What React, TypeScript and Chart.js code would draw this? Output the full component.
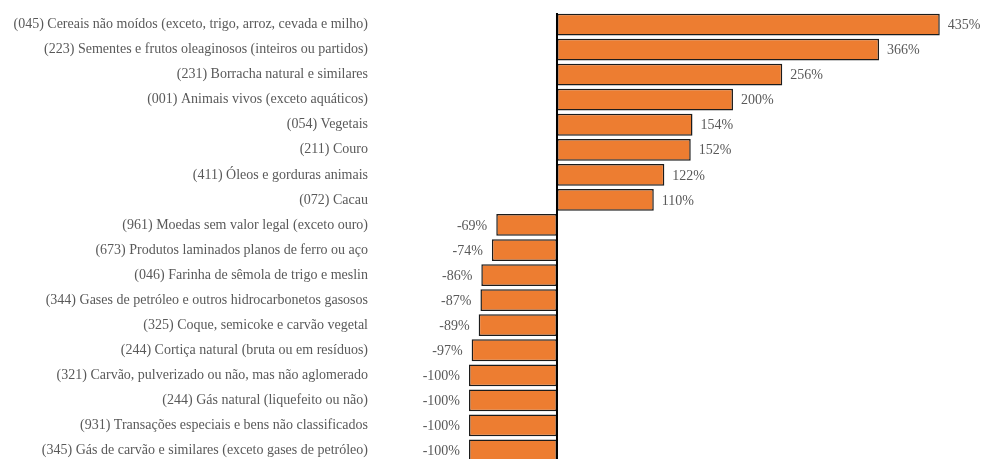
import React, { useEffect, useRef } from "react";
import { Chart, registerables } from "chart.js";

Chart.register(...registerables);

const categories: string[] = [
  "(045) Cereais não moídos (exceto, trigo, arroz, cevada e milho)",
  "(223) Sementes e frutos oleaginosos (inteiros ou partidos)",
  "(231) Borracha natural e similares",
  "(001) Animais vivos (exceto aquáticos)",
  "(054) Vegetais",
  "(211) Couro",
  "(411) Óleos e gorduras animais",
  "(072) Cacau",
  "(961) Moedas sem valor legal (exceto ouro)",
  "(673) Produtos laminados planos de ferro ou aço",
  "(046) Farinha de sêmola de trigo e meslin",
  "(344) Gases de petróleo e outros hidrocarbonetos gasosos",
  "(325) Coque, semicoke e carvão vegetal",
  "(244) Cortiça natural (bruta ou em resíduos)",
  "(321) Carvão, pulverizado ou não, mas não aglomerado",
  "(244) Gás natural (liquefeito ou não)",
  "(931) Transações especiais e bens não classificados",
  "(345) Gás de carvão e similares (exceto gases de petróleo)",
];

const values: number[] = [
  435, 366, 256, 200, 154, 152, 122, 110, -69, -74, -86, -87, -89, -97, -100, -100, -100, -100,
];

const FONT = "'Liberation Serif', 'Times New Roman', serif";
const TEXT_COLOR = "#595959";

const overlayPlugin = {
  id: "overlay",
  afterDatasetsDraw(chart: any) {
    const ctx = chart.ctx as CanvasRenderingContext2D;
    const xScale = chart.scales.x;
    const area = chart.chartArea;
    const x0 = xScale.getPixelForValue(0);
    ctx.save();
    ctx.strokeStyle = "#000";
    ctx.lineWidth = 2;
    ctx.beginPath();
    ctx.moveTo(x0, area.top + 1);
    ctx.lineTo(x0, area.bottom);
    ctx.stroke();

    const meta = chart.getDatasetMeta(0);
    ctx.font = `14px ${FONT}`;
    ctx.fillStyle = TEXT_COLOR;
    ctx.textBaseline = "middle";
    meta.data.forEach((bar: any, i: number) => {
      const v = values[i];
      const text = `${v}%`;
      if (v >= 0) {
        ctx.textAlign = "left";
        ctx.fillText(text, bar.x + 8, bar.y + 1);
      } else {
        ctx.textAlign = "right";
        ctx.fillText(text, bar.x - 9, bar.y + 1);
      }
    });
    ctx.restore();
  },
};

export default function App() {
  const canvasRef = useRef<HTMLCanvasElement | null>(null);

  useEffect(() => {
    if (!canvasRef.current) return;
    const chart = new Chart(canvasRef.current, {
      type: "bar",
      data: {
        labels: categories,
        datasets: [
          {
            data: values,
            backgroundColor: "#ED7D31",
            borderColor: "#1c1c1c",
            borderWidth: 1.5,
            borderSkipped: false,
            barPercentage: 0.87,
            categoryPercentage: 1,
          },
        ],
      },
      options: {
        indexAxis: "y",
        responsive: false,
        maintainAspectRatio: false,
        animation: false,
        layout: { padding: { top: 12, bottom: 0, left: 0, right: 0 } },
        plugins: {
          legend: { display: false },
          tooltip: { enabled: false },
        },
        scales: {
          x: {
            display: false,
            min: -200,
            max: 483,
          },
          y: {
            grid: { display: false, drawTicks: false },
            border: { display: false },
            ticks: {
              padding: 13,
              color: TEXT_COLOR,
              font: { family: FONT, size: 14 },
              autoSkip: false,
            },
            afterFit: (scale: any) => {
              scale.width = 381;
              scale.paddingTop = 0;
              scale.paddingBottom = 0;
            },
          },
        },
      },
      plugins: [overlayPlugin],
    });
    return () => chart.destroy();
  }, []);

  return (
    <div
      style={{
        position: "fixed",
        left: 0,
        top: 0,
        width: 982,
        height: 459,
        overflow: "hidden",
        background: "#fff",
      }}
    >
      <canvas ref={canvasRef} width={982} height={463} style={{ display: "block", width: 982, height: 463 }} />
    </div>
  );
}
